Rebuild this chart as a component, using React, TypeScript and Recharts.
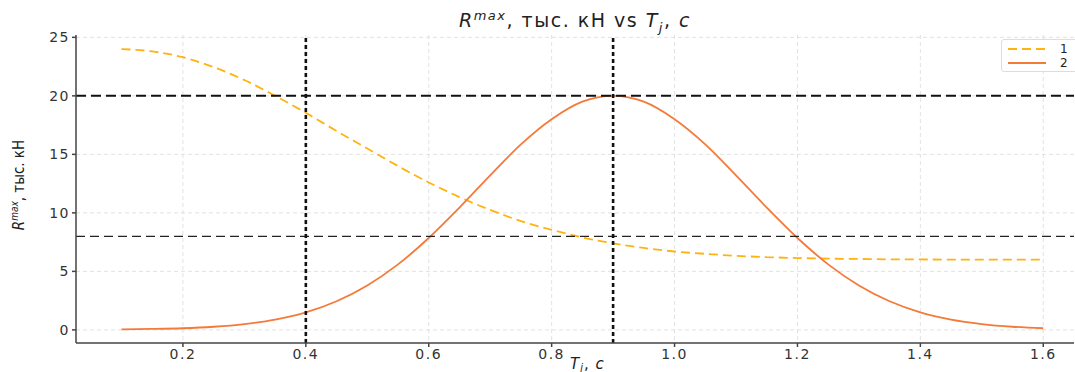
import { LineChart, Line, XAxis, YAxis, CartesianGrid, ReferenceLine, Label } from 'recharts';

const tj = [
  0.1, 0.15, 0.2, 0.25, 0.3, 0.35, 0.4, 0.45, 0.5, 0.55, 0.6, 0.65, 0.7, 0.75, 0.8, 0.85,
  0.9, 0.95, 1.0, 1.05, 1.1, 1.15, 1.2, 1.25, 1.3, 1.35, 1.4, 1.45, 1.5, 1.55, 1.6,
];
const curve1 = [
  24.0, 23.8, 23.3, 22.45, 21.35, 20.0, 18.55, 17.0, 15.5, 14.0, 12.6, 11.35, 10.25, 9.3, 8.55, 7.9,
  7.4, 7.0, 6.7, 6.5, 6.33, 6.22, 6.14, 6.09, 6.06, 6.03, 6.02, 6.01, 6.01, 6.0, 6.0,
];
const curve2 = [
  0.05, 0.08, 0.14, 0.27, 0.5, 0.88, 1.5, 2.45, 3.8, 5.6, 7.85, 10.45, 13.2, 15.85, 18.0, 19.5,
  20.0, 19.5, 18.0, 15.85, 13.2, 10.45, 7.85, 5.6, 3.8, 2.45, 1.5, 0.88, 0.5, 0.27, 0.14,
];
const xTicks = [0.2, 0.4, 0.6, 0.8, 1.0, 1.2, 1.4, 1.6];
const yTicks = [0, 5, 10, 15, 20, 25];
const hLines = [20, 8];
const vLines = [0.4, 0.9];

const data = tj.map((t, i) => ({ t, y1: curve1[i], y2: curve2[i] }));

const GOLD = '#FFB310';
const ORANGE = '#F47A3A';
const AXIS = '#444';
const tickFont = { fontFamily: 'DejaVu Sans', fontSize: 14, fill: '#333', letterSpacing: 1.5 };

function YTitle() {
  return (
    <text
      transform="translate(24,185) rotate(-90)"
      textAnchor="middle"
      fontFamily="DejaVu Sans Condensed, DejaVu Sans"
      fontSize={15}
      fill="#222"
    >
      <tspan fontStyle="italic">R</tspan>
      <tspan fontSize={10} dy={-6} fontStyle="italic">max</tspan>
      <tspan dy={6}>, тыс. кН</tspan>
    </text>
  );
}

function XTitle() {
  return (
    <text x={570} y={369} fontFamily="DejaVu Sans" fontSize={15} fill="#222" letterSpacing={1}>
      <tspan fontStyle="italic">T</tspan>
      <tspan fontSize={10} dy={2} fontStyle="italic">j</tspan>
      <tspan dy={-2}>, </tspan>
      <tspan fontStyle="italic">с</tspan>
    </text>
  );
}

export default function App() {
  return (
    <div style={{ position: 'absolute', left: 0, top: 0, width: 1075, height: 372, background: '#fff' }}>
      <LineChart width={1075} height={372} data={data} margin={{ top: 35, right: 1, bottom: 0, left: 0 }}>
        <CartesianGrid stroke="#e2e2e2" strokeDasharray="4 3" horizontalValues={yTicks} verticalValues={xTicks} />
        <XAxis
          dataKey="t"
          type="number"
          domain={[0.026, 1.65]}
          ticks={xTicks}
          tickFormatter={(v: number) => v.toFixed(1)}
          height={29}
          tick={tickFont}
          tickSize={4}
          stroke={AXIS}
          strokeWidth={1.5}
          allowDataOverflow
        >
          <Label content={<XTitle />} />
        </XAxis>
        <YAxis
          type="number"
          domain={[-1.12, 25.2]}
          ticks={yTicks}
          width={76}
          tick={tickFont}
          tickSize={4}
          stroke={AXIS}
          strokeWidth={1.5}
          allowDataOverflow
        >
          <Label content={<YTitle />} />
        </YAxis>
        <Line
          type="monotone"
          dataKey="y1"
          stroke={GOLD}
          strokeWidth={1.8}
          strokeDasharray="9 5"
          dot={false}
          isAnimationActive={false}
        />
        <Line
          type="monotone"
          dataKey="y2"
          stroke={ORANGE}
          strokeWidth={1.8}
          dot={false}
          isAnimationActive={false}
        />
        <ReferenceLine y={hLines[0]} stroke="#111" strokeWidth={2} strokeDasharray="10 5" />
        <ReferenceLine y={hLines[1]} stroke="#222" strokeWidth={1.3} strokeDasharray="9 5" />
        {vLines.map((x) => (
          <ReferenceLine key={x} x={x} stroke="#111" strokeWidth={2.6} strokeDasharray="4 3" />
        ))}
      </LineChart>

      <div
        style={{
          position: 'absolute',
          left: 0,
          width: 1150,
          top: 8,
          textAlign: 'center',
          fontFamily: 'DejaVu Sans',
          fontSize: 19,
          color: '#222',
          letterSpacing: 1.5,
        }}
      >
        <i>R</i>
        <sup style={{ fontSize: 13 }}><i>max</i></sup>, тыс. кН vs <i>T</i>
        <sub style={{ fontSize: 13 }}><i>j</i></sub>, <i>с</i>
      </div>

      <div
        style={{
          position: 'absolute',
          left: 1001,
          top: 39,
          width: 90,
          height: 31,
          border: '1px solid #ddd',
          borderRadius: 3,
          background: 'rgba(255,255,255,0.85)',
          fontFamily: 'DejaVu Sans',
          fontSize: 12,
          color: '#222',
          letterSpacing: 1.5,
        }}
      >
        {[
          { name: '1', color: GOLD, dash: '9 5' },
          { name: '2', color: ORANGE, dash: undefined },
        ].map((s, i) => (
          <div key={s.name} style={{ position: 'absolute', left: 6, top: 2 + i * 14, display: 'flex', alignItems: 'center' }}>
            <svg width={38} height={12}>
              <line x1={0} y1={6} x2={38} y2={6} stroke={s.color} strokeWidth={1.8} strokeDasharray={s.dash} />
            </svg>
            <span style={{ marginLeft: 14 }}>{s.name}</span>
          </div>
        ))}
      </div>
    </div>
  );
}
